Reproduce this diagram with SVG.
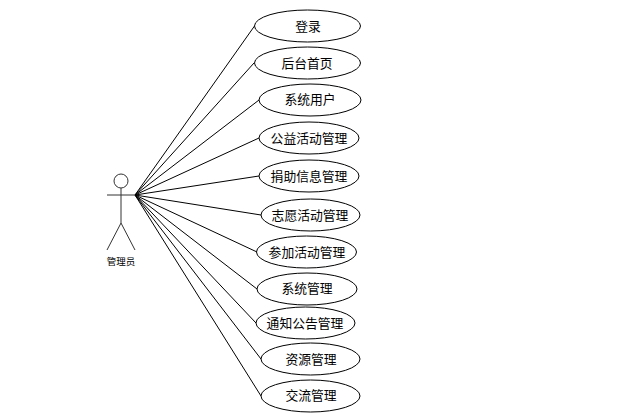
<svg xmlns="http://www.w3.org/2000/svg" width="636" height="416" viewBox="0 0 636 416">
<style>
.l{stroke:#000;stroke-width:1;fill:none}
.a{stroke:#333;stroke-width:1;fill:none}
.e{stroke:#000;stroke-width:1;fill:#fff}
text{font-family:"Noto Sans CJK SC","Liberation Sans",sans-serif;font-size:12.800px;text-anchor:middle;fill:#000}
</style>
<rect width="636" height="416" fill="#fff"/>
<g id="connectors">
<path class="l" d="M135 195L254.500 26"/>
<path class="l" d="M135 195L254 63"/>
<path class="l" d="M135 195L259 100"/>
<path class="l" d="M135 195L259 138"/>
<path class="l" d="M135 195L259 176"/>
<path class="l" d="M135 195L261 215"/>
<path class="l" d="M135 195L257 252"/>
<path class="l" d="M135 195L257 289"/>
<path class="l" d="M135 195L256 323"/>
<path class="l" d="M135 195L261 359"/>
<path class="l" d="M135 195L261 396"/>
</g>
<g id="actor">
<circle class="a" cx="121" cy="181" r="7"/>
<path class="a" d="M121 188V223M107 195H135M121 223L107 250M121 223L135 250"/>
<text x="121" y="265" style="font-size:9.500px">管理员</text>
</g>
<g id="n1"><ellipse class="e" cx="307.500" cy="26" rx="53" ry="16"/><text x="308" y="31">登录</text></g>
<g id="n2"><ellipse class="e" cx="307.500" cy="63" rx="53" ry="16"/><text x="307" y="68">后台首页</text></g>
<g id="n3"><ellipse class="e" cx="310" cy="100" rx="51" ry="16"/><text x="310" y="104">系统用户</text></g>
<g id="n4"><ellipse class="e" cx="309" cy="138" rx="50" ry="16"/><text x="309" y="143">公益活动管理</text></g>
<g id="n5"><ellipse class="e" cx="309" cy="176" rx="50" ry="16"/><text x="309" y="181">捐助信息管理</text></g>
<g id="n6"><ellipse class="e" cx="310.500" cy="215" rx="49.500" ry="16"/><text x="310" y="220">志愿活动管理</text></g>
<g id="n7"><ellipse class="e" cx="306.500" cy="252" rx="50" ry="16"/><text x="307" y="257">参加活动管理</text></g>
<g id="n8"><ellipse class="e" cx="307" cy="289" rx="50" ry="16"/><text x="307" y="293">系统管理</text></g>
<g id="n9"><ellipse class="e" cx="305.500" cy="323" rx="49.500" ry="16"/><text x="305" y="328">通知公告管理</text></g>
<g id="n10"><ellipse class="e" cx="310.500" cy="359" rx="49.500" ry="16"/><text x="311" y="364">资源管理</text></g>
<g id="n11"><ellipse class="e" cx="310.500" cy="396" rx="49.500" ry="16"/><text x="311" y="400">交流管理</text></g>
</svg>
